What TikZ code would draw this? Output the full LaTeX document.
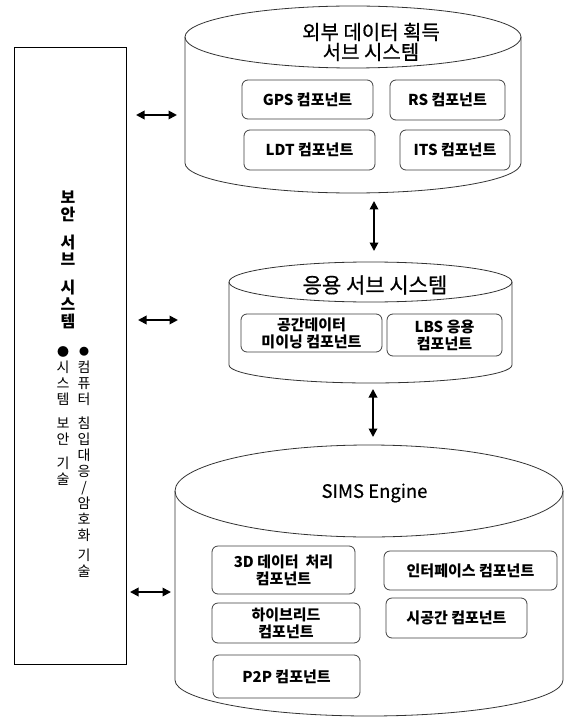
\documentclass[tikz,border=0pt]{standalone}
\usepackage{fontspec}
\setmainfont{Noto Sans CJK KR}
\newfontfamily\medfont[FakeBold=0.6]{Noto Sans CJK KR}
\usetikzlibrary{arrows.meta}
\begin{document}
\begin{tikzpicture}[x=1pt,y=-1pt,
  outline/.style={draw=black!80, line width=0.8pt},
  comp/.style={draw=black!75, line width=0.8pt, rounded corners=6pt, align=center,
    font=\fontsize{15}{17}\selectfont\bfseries, inner sep=0pt},
  ttl/.style={align=center, inner sep=0pt, font=\fontsize{20}{20}\selectfont\medfont},
  biarrow/.style={line width=1.8pt, {Triangle[length=8.5pt,width=8.5pt]}-{Triangle[length=8.5pt,width=8.5pt]}},
  vtext/.style={align=center, inner sep=0pt, anchor=north}
]
\useasboundingbox (0,0) rectangle (566,719);

% ---------- cylinder A : external data acquisition ----------
\draw[outline, fill=white] (185,37) -- (185,163)
  arc[start angle=180, end angle=360, x radius=168pt, y radius=30pt] -- (521,37);
\draw[outline] (353,37) ellipse [x radius=168pt, y radius=31pt];
\node[ttl] (tA) at (371,42) {외부 데이터 획득\\서브 시스템};
\node[comp, minimum width=131pt, minimum height=39pt] (gps) at (307.5,99.5) {GPS 컴포넌트};
\node[comp, minimum width=115pt, minimum height=40pt] (rs)  at (447.5,100) {RS 컴포넌트};
\node[comp, minimum width=131pt, minimum height=40pt] (ldt) at (309.5,150) {LDT 컴포넌트};
\node[comp, minimum width=110pt, minimum height=40pt] (its) at (455,150) {ITS 컴포넌트};

% ---------- cylinder B : application ----------
\draw[outline, fill=white] (229,282) -- (229,365)
  arc[start angle=180, end angle=360, x radius=141.5pt, y radius=18pt] -- (512,282);
\draw[outline] (370.5,282) ellipse [x radius=141.5pt, y radius=20pt];
\node[ttl, font=\fontsize{21}{22}\selectfont\medfont] (tB) at (375,285) {응용 서브 시스템};
\node[comp, minimum width=141pt, minimum height=38pt] (mine) at (311.5,333) {공간데이터\\미이닝 컴포넌트};
\node[comp, minimum width=115pt, minimum height=42pt] (lbs)  at (444.5,335) {LBS 응용\\컴포넌트};

% ---------- cylinder C : SIMS Engine ----------
\draw[outline, fill=white] (175,491) -- (175,680)
  arc[start angle=180, end angle=360, x radius=194pt, y radius=36pt] -- (563,491);
\draw[outline] (369,491) ellipse [x radius=194pt, y radius=46pt];
\node[ttl, font=\fontsize{18.5}{22}\selectfont\medfont] (tC) at (374.5,493) {SIMS Engine};
\node[comp, minimum width=143pt, minimum height=48pt] (d3)   at (283.5,570) {3D 데이터 \ 처리\\컴포넌트};
\node[comp, minimum width=148pt, minimum height=40pt] (hyb)  at (286,623) {하이브리드\\컴포넌트};
\node[comp, minimum width=147pt, minimum height=43pt] (p2p)  at (286.5,676.5) {P2P 컴포넌트};
\node[comp, minimum width=173pt, minimum height=39pt] (intf) at (470.5,570.5) {인터페이스 컴포넌트};
\node[comp, minimum width=141pt, minimum height=40pt] (stm)  at (456.5,618) {시공간 컴포넌트};

% ---------- security subsystem ----------
\node[draw, line width=1pt, minimum width=112pt, minimum height=616pt, inner sep=0pt] (sec) at (70,356) {};
\node[vtext, font=\fontsize{16}{17}\selectfont\bfseries] (secT) at (68,191)
  {보\\안\\[11pt]서\\브\\[11pt]시\\스\\템};
\node[inner sep=0pt, font=\fontsize{12}{12}\selectfont] (b1) at (63,352) {●};
\node[inner sep=0pt, font=\fontsize{10}{10}\selectfont] (b2) at (84,352) {●};
\node[vtext, font=\fontsize{14}{16}\selectfont] (col1) at (63,361)
  {시\\스\\템\\[8pt]보\\안\\[8pt]기\\술};
\node[vtext, font=\fontsize{14}{16}\selectfont] (col2) at (84,361)
  {컴\\퓨\\터\\[8pt]침\\입\\대\\응\\/\\암\\호\\화\\[4pt]기\\술};

% ---------- connectors ----------
\coordinate (h1a) at (136,115);  \coordinate (h1b) at (177,115);
\coordinate (h2a) at (138,320);  \coordinate (h2b) at (178,320);
\coordinate (h3a) at (130,592);  \coordinate (h3b) at (171,592);
\coordinate (v1a) at (374,201);  \coordinate (v1b) at (374,251);
\coordinate (v2a) at (373,389);  \coordinate (v2b) at (373,437);
\draw[biarrow] (h1a) -- (h1b);
\draw[biarrow] (h2a) -- (h2b);
\draw[biarrow] (h3a) -- (h3b);
\draw[biarrow] (v1a) -- (v1b);
\draw[biarrow] (v2a) -- (v2b);
\end{tikzpicture}
\end{document}
